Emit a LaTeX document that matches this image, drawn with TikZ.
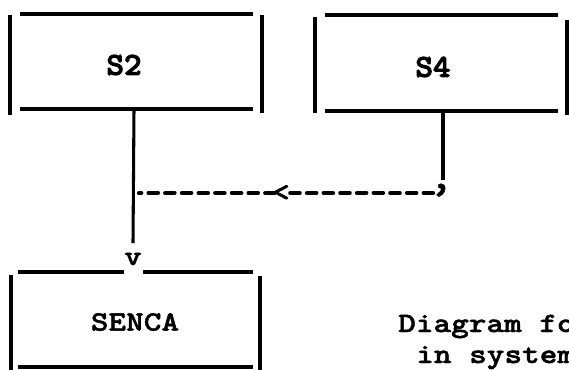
\documentclass[tikz,border=0pt]{standalone}
\usepackage{fontspec}
\usepackage{tikz}
\usetikzlibrary{positioning}
\newfontfamily\slabtt{lmmonolt10-bold.otf}[FakeStretch=1.2, FakeBold=1.6]
\newfontfamily\heavytt{lmmonolt10-bold.otf}[FakeStretch=1.05, FakeBold=3]

\begin{document}
\begin{tikzpicture}[
  x=0.75pt, y=-0.75pt,
  rule/.style={line width=2.4pt},
  stem/.style={line width=2.3pt},
  dashrule/.style={line width=3.2pt, line cap=round, dash pattern=on 7pt off 5.5pt},
  tag/.style={inner sep=0pt, font=\heavytt\fontsize{24}{28}\selectfont},
  txt/.style={inner sep=0pt, font=\slabtt\fontsize{21}{25}\selectfont},
]
  \useasboundingbox (0,0) rectangle (569,369);
  \clip (0,0) rectangle (569,369);

  % box S2
  \draw[rule] (10,15) -- (10,115);
  \draw[rule] (20,14) -- (253,14);
  \draw[rule] (262,15) -- (262,113);
  \draw[rule] (20,109) -- (253,109);
  \node[tag] (s2) at (124,65) {S2};

  % box S4
  \draw[rule] (315,17) -- (315,113);
  \draw[rule] (325,15) -- (558,15);
  \draw[rule] (567,20) -- (567,115);
  \draw[rule] (325,111) -- (558,111);
  \node[tag] (s4) at (433,67) {S4};

  % box SENCA
  \draw[rule] (18,272) -- (124,272);
  \draw[rule] (143,272) -- (253,272);
  \draw[rule] (11,275) -- (11,372);
  \draw[rule] (260,276) -- (260,372);
  \draw[rule] (18,367) -- (253,367);
  \node[txt] (senca) at (135,322) {SENCA};

  % flow
  \coordinate (s2foot) at (134,109);
  \coordinate (s4foot) at (443,111);
  \coordinate (s4bend) at (443,180);
  \coordinate (dashhead) at (433,193);
  \coordinate (dashtail) at (139,193);
  \node[txt] (vtip) at (133,259) {v};
  \node[txt] (larrow) at (281,193) {<};
  \node[txt, font=\slabtt\fontsize{30}{34}\selectfont] (tick) at (441,196) {’};
  \draw[stem] (s2foot) -- ([yshift=7pt]vtip.north);
  \draw[stem] (s4foot) -- (s4bend);
  \draw[dashrule] (dashhead) -- ([xshift=-2pt]larrow.east);
  \draw[dashrule] ([xshift=2pt]larrow.west) -- (dashtail);

  % note
  \node[txt, anchor=base west] (note1) at (398,332) {Diagram fo};
  \node[txt, anchor=base west] (note2) at (416,363) {in system};
\end{tikzpicture}
\end{document}
